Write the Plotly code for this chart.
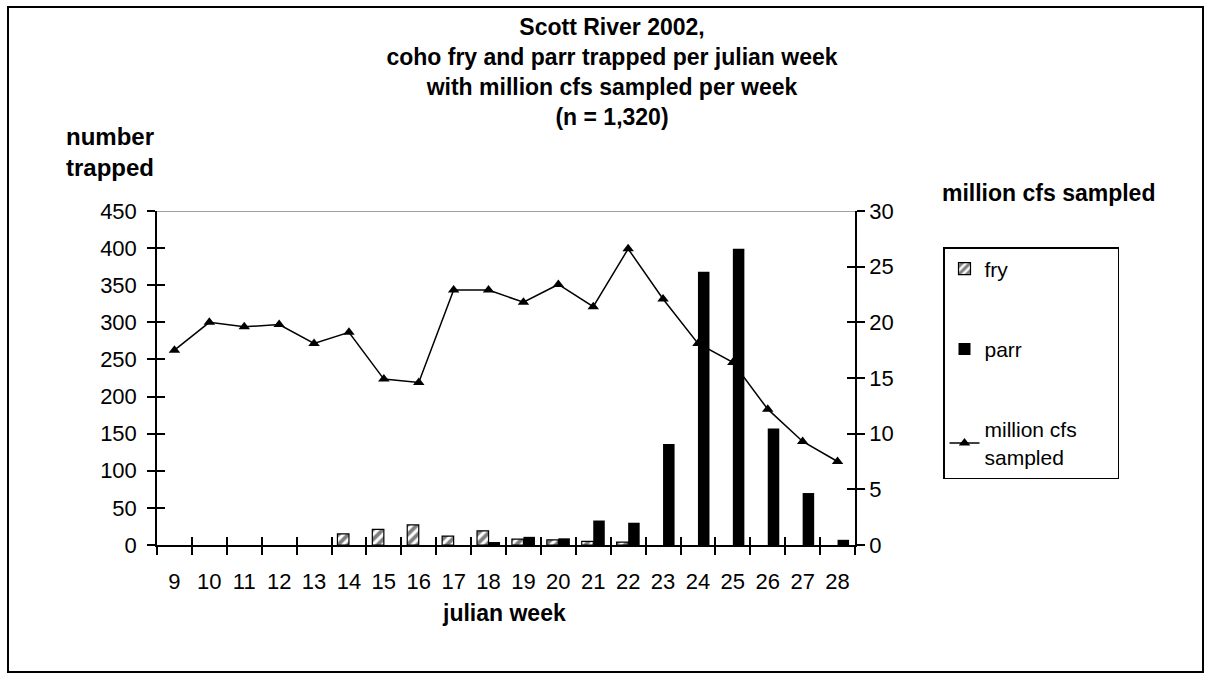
import plotly.graph_objects as go

# Weekly coho trap counts and sampled flow, Scott River 2002
weeks = [str(w) for w in range(9, 29)]
fry = [0, 0, 0, 0, 0, 15, 21, 27, 12, 19, 8, 7, 5, 4, 0, 0, 0, 0, 0, 0]
parr = [0, 0, 0, 0, 0, 0, 0, 0, 0, 4, 11, 9, 33, 30, 136, 368, 399, 157, 70, 7]
cfs_sampled = [17.5, 20.0, 19.6, 19.8, 18.1, 19.1, 14.9, 14.6, 22.9, 22.9,
               21.8, 23.4, 21.4, 26.6, 22.1, 18.1, 16.4, 12.2, 9.3, 7.5]
left_ticks = list(range(0, 451, 50))
right_ticks = list(range(0, 31, 5))

FONT = "Liberation Sans, Arial, sans-serif"
W, H = 1212, 680
L, R, T, B = 157, 357, 211, 135
PW, PH = W - L - R, H - T - B


def px(x):
    return (x - L) / PW


def py(y):
    return (H - B - y) / PH


def nonzero(vals):
    # empty weeks draw no bar at all
    return [v if v else None for v in vals]


fig = go.Figure()

fig.add_trace(go.Bar(
    x=weeks, y=nonzero(fry), name="fry",
    marker=dict(color="white", line=dict(color="black", width=1.2),
                pattern=dict(shape="/", fgcolor="black", bgcolor="white",
                             size=7, solidity=0.55)),
    legendgroup="fry",
))
fig.add_trace(go.Bar(
    x=weeks, y=nonzero(parr), name="parr",
    marker=dict(color="black", line=dict(width=0)),
    legendgroup="parr",
))
# trailing spaces widen the legend box
fig.add_trace(go.Scatter(
    x=weeks, y=cfs_sampled,
    name="million cfs" + "&nbsp;" * 6 + "<br>sampled", yaxis="y2",
    mode="lines+markers",
    line=dict(color="black", width=1.5),
    marker=dict(symbol="triangle-up", size=10, color="black"),
    legendgroup="cfs",
))

# helper traces so the inward tick overlays are laid out
fig.add_trace(go.Scatter(x=[0], y=[None], xaxis="x2", yaxis="y3",
                         showlegend=False, hoverinfo="skip"))
fig.add_trace(go.Scatter(x=weeks, y=[None] * len(weeks), yaxis="y4",
                         showlegend=False, hoverinfo="skip"))

tick_common = dict(tickcolor="black", tickwidth=1.5, ticklen=8, showgrid=False,
                   zeroline=False)

fig.update_layout(
    width=W, height=H,
    margin=dict(l=L, r=R, t=T, b=B),
    paper_bgcolor="white", plot_bgcolor="white",
    font=dict(family=FONT, size=22, color="black"),
    barmode="group", bargap=0.34, bargroupgap=0.0,
    title=dict(
        text="<b>Scott River 2002,<br>coho fry and parr trapped per julian week"
             "<br>with million cfs sampled per week<br>(n = 1,320)</b>",
        x=612 / W, xanchor="center", y=1 - 35 / H, yanchor="middle",
        yref="container", font=dict(family=FONT, size=23, color="black"),
    ),
    xaxis=dict(
        type="category", categoryorder="array", categoryarray=weeks,
        range=[-0.5, 19.5], tickson="boundaries", ticks="outside",
        showline=True, linecolor="black", linewidth=1.5,
        tickfont=dict(size=22), ticklabelstandoff=16, **tick_common,
    ),
    xaxis2=dict(
        overlaying="x", anchor="y", range=[-0.5, 19.5], autorange=False,
        tickmode="array", tickvals=[i - 0.5 for i in range(21)],
        ticks="inside", showticklabels=False, showline=False, **tick_common,
    ),
    yaxis=dict(
        range=[0, 450], tickmode="array", tickvals=left_ticks,
        ticks="outside", showline=True, linecolor="black", linewidth=1.5,
        tickfont=dict(size=22), ticklabelstandoff=6, **tick_common,
    ),
    yaxis2=dict(
        overlaying="y", side="right", anchor="x", range=[0, 30],
        tickmode="array", tickvals=right_ticks, ticks="outside",
        showline=True, linecolor="black", linewidth=1.5,
        tickfont=dict(size=22), ticklabelstandoff=0, **tick_common,
    ),
    yaxis3=dict(
        overlaying="y", side="left", anchor="x2", range=[0, 450],
        tickmode="array", tickvals=left_ticks, ticks="inside",
        showticklabels=False, showline=False, **tick_common,
    ),
    yaxis4=dict(
        overlaying="y", side="right", anchor="x", range=[0, 30],
        tickmode="array", tickvals=right_ticks, ticks="inside",
        showticklabels=False, showline=False, **tick_common,
    ),
    legend=dict(
        x=px(943), y=py(247), xanchor="left", yanchor="top",
        bordercolor="black", borderwidth=1.5, bgcolor="white",
        font=dict(family=FONT, size=21, color="black"),
        tracegroupgap=50, traceorder="grouped",
    ),
    showlegend=True,
)

# gray line along the top of the plot area
fig.add_shape(type="line", xref="paper", yref="y", x0=0, x1=1, y0=450, y1=450,
              line=dict(color="#808080", width=1.5), layer="below")
# chart border
fig.add_shape(type="rect", xref="paper", yref="paper",
              x0=px(8), x1=px(1203), y0=py(672), y1=py(7),
              line=dict(color="black", width=2))

fig.add_annotation(text="<b>number<br>trapped</b>", xref="paper", yref="paper",
                   x=px(64), y=py(152), xanchor="left", yanchor="middle",
                   align="left", showarrow=False,
                   font=dict(family=FONT, size=24, color="black"))
fig.add_annotation(text="<b>million cfs sampled</b>", xref="paper", yref="paper",
                   x=px(1048), y=py(193), xanchor="center", yanchor="middle",
                   showarrow=False, font=dict(family=FONT, size=23, color="black"))
fig.add_annotation(text="<b>julian week</b>", xref="paper", yref="paper",
                   x=px(504), y=py(613), xanchor="center", yanchor="middle",
                   showarrow=False, font=dict(family=FONT, size=23, color="black"))

fig.write_html("out.html")
